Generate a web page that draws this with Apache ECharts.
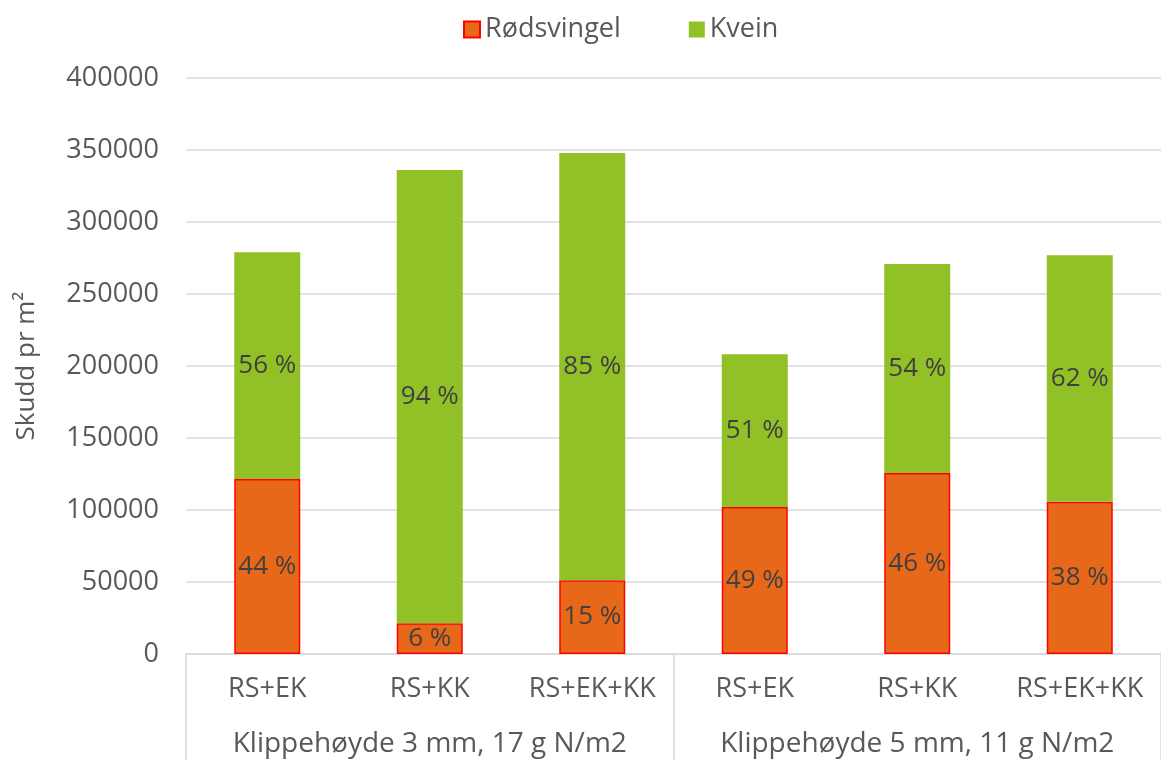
<!DOCTYPE html>
<html>
<head>
<meta charset="utf-8">
<script src="https://cdn.jsdelivr.net/npm/echarts@6/dist/echarts.min.js"></script>
<style>html,body{margin:0;padding:0;background:#fff}#c{width:1161px;height:760px}</style>
</head>
<body>
<div id="c"></div>
<script>
const categories = ['RS+EK', 'RS+KK', 'RS+EK+KK', 'RS+EK', 'RS+KK', 'RS+EK+KK'];
const groups = ['Klippehøyde 3 mm, 17 g N/m2', 'Klippehøyde 5 mm, 11 g N/m2'];
const rodsvingel = [121600, 21400, 51300, 102100, 125650, 105750];
const kvein = [157400, 314700, 296700, 106000, 145250, 171150];
const rodsvingelPct = ['44 %', '6 %', '15 %', '49 %', '46 %', '38 %'];
const kveinPct = ['56 %', '94 %', '85 %', '51 %', '54 %', '62 %'];
const yTicks = { min: 0, max: 400000, interval: 50000 };

const FONT = 'Open Sans';
const chart = echarts.init(document.getElementById('c'));
chart.setOption({
  animation: false,
  textStyle: { fontFamily: FONT },
  legend: {
    top: 11, left: 458,
    itemWidth: 16, itemHeight: 16, itemGap: 68,
    icon: 'rect',
    textStyle: { fontSize: 27, color: '#595959', fontFamily: FONT },
    data: ['Rødsvingel', 'Kvein']
  },
  grid: { left: 186, right: -6, top: 78, bottom: 106, containLabel: false },
  xAxis: [{
    type: 'category', data: categories, position: 'bottom',
    axisLine: { lineStyle: { color: '#D9D9D9', width: 1.5 } },
    axisTick: { show: false },
    axisLabel: { fontSize: 27, color: '#595959', margin: 22, interval: 0, fontFamily: FONT }
  }, {
    type: 'category', data: groups, position: 'bottom', offset: 0,
    axisLine: { show: false },
    axisTick: { show: true, length: 110, interval: 0, lineStyle: { color: '#D9D9D9', width: 1.5 } },
    axisLabel: { fontSize: 28, color: '#595959', margin: 76, interval: 0, fontFamily: FONT },
    splitLine: { show: false }
  }],
  yAxis: {
    type: 'value', min: yTicks.min, max: yTicks.max, interval: yTicks.interval,
    name: 'Skudd pr m²', nameLocation: 'middle', nameRotate: 90, nameGap: 146,
    nameTextStyle: { fontSize: 26, color: '#595959', fontFamily: FONT },
    axisLine: { show: false }, axisTick: { show: false },
    axisLabel: { fontSize: 27, color: '#595959', margin: 27, fontFamily: FONT,
      formatter: v => String(v) },
    splitLine: { lineStyle: { color: '#D9D9D9', width: 1.5 } }
  },
  series: [{
    name: 'Rødsvingel', type: 'bar', stack: 'a', barWidth: 66, xAxisIndex: 0,
    data: rodsvingel,
    itemStyle: { color: '#E8681A', borderColor: '#FF0000', borderWidth: 1.5 },
    label: { show: true, position: 'inside', fontSize: 26, color: '#404040', fontFamily: FONT,
      formatter: p => rodsvingelPct[p.dataIndex] }
  }, {
    name: 'Kvein', type: 'bar', stack: 'a', barWidth: 66, xAxisIndex: 0,
    data: kvein,
    itemStyle: { color: '#92C127' },
    label: { show: true, position: 'inside', fontSize: 26, color: '#404040', fontFamily: FONT,
      formatter: p => kveinPct[p.dataIndex] }
  }]
});
</script>
</body>
</html>
